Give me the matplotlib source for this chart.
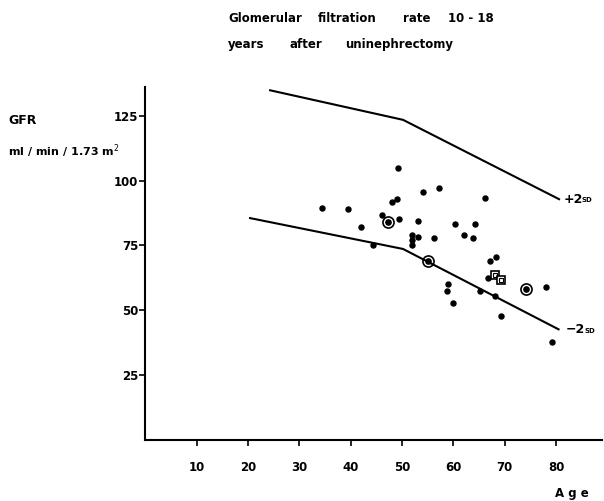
import matplotlib
matplotlib.use("Agg")
import matplotlib.pyplot as plt

# Data
dots_age = [49.3, 54.1, 57.3, 66.2, 49.1, 48.1, 34.4, 39.4, 46.1, 49.5, 53.1, 60.3,
            64.3, 42.0, 51.9, 51.9, 51.9, 53.2, 56.2, 62.1, 63.8, 44.4, 68.3, 67.2,
            66.8, 59.0, 58.8, 65.1, 78.0, 68.2, 59.9, 69.3, 79.2]
dots_gfr = [104.7, 95.6, 97.2, 93.3, 92.9, 91.6, 89.4, 89.0, 86.8, 85.0, 84.3, 83.3,
            83.1, 82.1, 79.0, 77.1, 75.2, 78.4, 77.9, 78.9, 77.9, 75.1, 70.6, 68.8,
            62.4, 60.1, 57.3, 57.3, 58.8, 55.6, 52.8, 47.8, 37.8]
circle_age = [47.2, 55.0, 74.2]
circle_gfr = [84.0, 68.9, 58.3]
square_age = [68.1, 69.3]
square_gfr = [63.5, 61.7]
upper_age = [24.3, 50.2, 80.6]
upper_gfr = [134.8, 123.4, 92.8]
lower_age = [20.4, 50.2, 80.5]
lower_gfr = [85.5, 73.6, 42.6]
xticks = [10, 20, 30, 40, 50, 60, 70, 80]
yticks = [25, 50, 75, 100, 125]
title_line1 = ["Glomerular", "filtration", "rate", "10 - 18"]
title_line2 = ["years", "after", "uninephrectomy"]

fig = plt.figure(figsize=(6.04, 5.01), dpi=100)
ax = fig.add_axes([0.2407, 0.1222, 0.7563, 0.7038])
ax.set_xlim(0, 89)
ax.set_ylim(0, 136)

ax.plot(upper_age, upper_gfr, color="black", lw=1.5)
ax.plot(lower_age, lower_gfr, color="black", lw=1.5)
ax.plot(dots_age, dots_gfr, 'o', color="black", ms=3.6, mec="black")
ax.plot(circle_age, circle_gfr, 'o', mfc="none", mec="black", ms=8, mew=1.2)
ax.plot(circle_age, circle_gfr, 'o', color="black", ms=3.8)
ax.plot(square_age, square_gfr, 's', mfc="white", mec="black", ms=5.5, mew=1.2)
ax.plot(square_age, square_gfr, 's', mfc="none", mec="black", ms=2.5, mew=0.8)

for s in ["top", "right"]:
    ax.spines[s].set_visible(False)
for s in ["left", "bottom"]:
    ax.spines[s].set_linewidth(1.5)

ax.set_xticks(xticks)
ax.set_yticks(yticks)
ax.set_xticklabels([str(t) for t in xticks], fontsize=8.5, fontweight="bold")
ax.set_yticklabels([str(t) for t in yticks], fontsize=8.5, fontweight="bold")
ax.tick_params(axis="x", direction="out", length=4, width=1.2, pad=11)
ax.tick_params(axis="y", direction="out", length=4, width=1.2, pad=1)

ax.text(81.5, 92.8, "+2", fontsize=9, fontweight="bold", va="center", ha="left")
ax.text(85.0, 92.3, "SD", fontsize=5, fontweight="bold", va="center", ha="left")
ax.text(81.8, 42.6, "\u22122", fontsize=9, fontweight="bold", va="center", ha="left")
ax.text(85.5, 42.1, "SD", fontsize=5, fontweight="bold", va="center", ha="left")

fig.text(572 / 604, 1 - 493 / 501, "A g e", fontsize=8.5, fontweight="bold",
         ha="center", va="center")
fig.text(8 / 604, 1 - 121 / 501, "GFR", fontsize=9, fontweight="bold",
         ha="left", va="center")
fig.text(8 / 604, 1 - 151 / 501, "ml / min / 1.73 m$^2$", fontsize=8, fontweight="bold",
         ha="left", va="center")

for word, xp in zip(title_line1, [228, 318, 403, 448]):
    fig.text(xp / 604, 1 - 22 / 501, word, fontsize=8.5, fontweight="bold",
             ha="left", va="baseline")
for word, xp in zip(title_line2, [228, 289, 345]):
    fig.text(xp / 604, 1 - 48 / 501, word, fontsize=8.5, fontweight="bold",
             ha="left", va="baseline")

fig.savefig("out.png", dpi=100)
